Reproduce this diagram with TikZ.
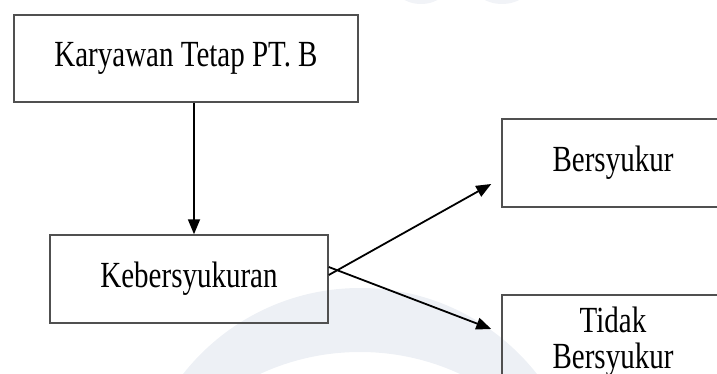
\documentclass[tikz,border=0pt]{standalone}
\usepackage{fontspec}
\usepackage{graphicx}
\setmainfont{Liberation Serif}
\usetikzlibrary{arrows.meta}
\definecolor{wm}{HTML}{EDF0F5}
\definecolor{wmtop}{HTML}{F1F3F7}
\definecolor{boxline}{HTML}{505050}
\newcommand{\vstretch}[1]{\scalebox{1}[1.27]{#1}}
\begin{document}
\begin{tikzpicture}[x=1pt,y=-1pt,
  box/.style={draw=boxline,line width=1.5pt,minimum width=#1,inner sep=0pt,
    font=\fontsize{29}{26.8}\selectfont,align=center},
  boxtext/.style={inner sep=0pt,font=\fontsize{29}{26.8}\selectfont,align=center},
  conn/.style={line width=1.8pt,-{Triangle[length=15pt,width=12pt]}}]
\useasboundingbox (0,0) rectangle (717,374);
\clip (0,0) rectangle (717,374);
% watermark
\fill[wm,even odd rule] (360,513) circle[radius=225] (360,590) circle[radius=238];
\fill[wmtop] (421,-20) ellipse[x radius=30,y radius=24];
\fill[wmtop] (502,-20) ellipse[x radius=31,y radius=24];
% boxes
\node[box=344pt,minimum height=87pt] (kar) at (186,58.5) {\vstretch{Karyawan Tetap PT. B}};
\node[box=278pt,minimum height=88pt] (keb) at (189,279) {\vstretch{Kebersyukuran}};
\node[box=222pt,minimum height=88pt] (ber) at (613,163) {\vstretch{Bersyukur}};
\node[box=222pt,minimum height=88pt] (tid) at (613,339) {};
\node[boxtext] (tidtext) at ([yshift=-4pt]tid.center) {\vstretch{\begin{tabular}{@{}c@{}}Tidak\\Bersyukur\end{tabular}}};
% connectors
\draw[conn] ([xshift=8pt]kar.south) -- ([xshift=5pt]keb.north);
\draw[conn] ([yshift=4pt]keb.east) -- ([xshift=-10pt,yshift=-21pt]ber.west);
\draw[conn] ([yshift=12pt]keb.east) -- ([xshift=-10pt,yshift=10pt]tid.west);
\end{tikzpicture}
\end{document}
